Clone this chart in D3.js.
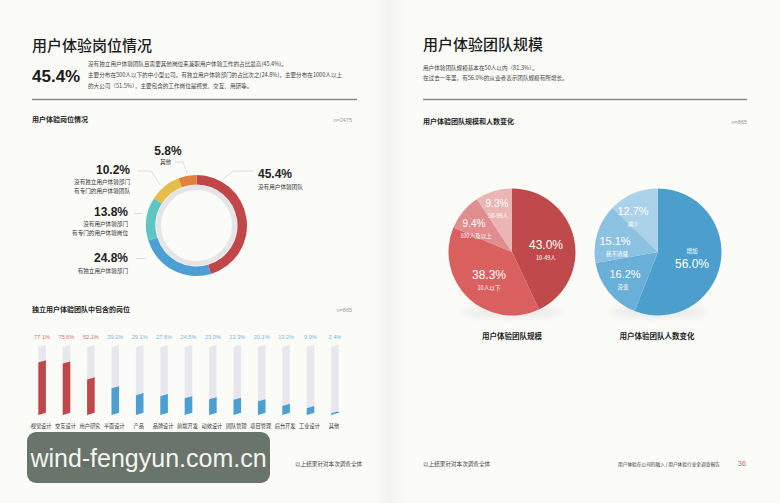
<!DOCTYPE html>
<html><head><meta charset="utf-8">
<script src="https://cdn.jsdelivr.net/npm/d3@7/dist/d3.min.js"></script>
<style>
html,body{margin:0;padding:0;background:#fbfbf8;}
svg{display:block;}
text{font-family:"Liberation Sans","Noto Sans CJK SC",sans-serif;}
.cn{font-family:"Noto Sans CJK SC","Liberation Sans",sans-serif;}
</style></head>
<body>
<svg id="c" width="780" height="503"></svg>
<script>
// ---------- DATA ----------
const donutLabels = [["没有用户体验团队"],["有独立用户体验部门"],["没有用户体验部门","有专门的用户体验岗位"],["没有独立用户体验部门","有专门的用户体验团队"],["其他"]];
const donutValues = [45.4, 24.8, 13.8, 10.2, 5.8];
const donutColors = ["#c1464a","#4b9fd2","#5ec5c3","#e4bd4c","#e2813d"];

const barCategories = ["视觉设计","交互设计","用户研究","平面设计","产品","品牌设计","前端开发","动效设计","团队管理","项目管理","后台开发","工业设计","其他"];
const barValues = [77.1, 75.6, 52.1, 39.2, 29.1, 27.6, 24.5, 23.0, 22.3, 20.1, 13.2, 9.9, 2.4];

const sizeLabels = ["10-49人","10人以下","100人及以上","50-99人"];
const sizeValues = [43.0, 38.3, 9.4, 9.3];
const sizeColors = ["#c04a4b","#d9605f","#e08d8d","#ebb5b5"];

const changeLabels = ["增加","没变","我不清楚","减少"];
const changeValues = [56.0, 16.2, 15.1, 12.7];
const changeColors = ["#4c9fcd","#6aafd7","#8cc2e1","#abd2e9"];

// ---------- DRAW ----------
const svg = d3.select("#c");
svg.append("rect").attr("width",780).attr("height",503).attr("fill","#fbfbf8");
// spine shading
const g0 = svg.append("defs").append("linearGradient").attr("id","spine");
g0.append("stop").attr("offset","0%").attr("stop-color","#fbfbf8");
g0.append("stop").attr("offset","50%").attr("stop-color","#f2f2ef");
g0.append("stop").attr("offset","100%").attr("stop-color","#fbfbf8");
svg.append("rect").attr("x",375).attr("y",0).attr("width",30).attr("height",503).attr("fill","url(#spine)");

function txt(x,y,s,size,opt={}){
  return svg.append("text").attr("x",x).attr("y",y).text(s)
    .attr("font-size",size).attr("fill",opt.fill||"#222")
    .attr("font-weight",opt.w||400).attr("text-anchor",opt.a||"start")
    .attr("class",opt.cn===false?null:"cn");
}

// ----- Left page header -----
txt(32,51,"用户体验岗位情况",15,{w:500,fill:"#1a1a1a"});
txt(32,82,"45.4%",17,{w:700,fill:"#1a1a1a",cn:false});
txt(88,66,"没有独立用户体验团队且需要其他岗位来兼职用户体验工作的占比最高(45.4%)。",5.6,{fill:"#444"});
txt(88,77,"主要分布在500人以下的中小型公司。有独立用户体验部门的占比次之(24.8%)，主要分布在1000人以上",5.6,{fill:"#444"});
txt(88,88,"的大公司（51.5%），主要包含的工作岗位是视觉、交互、用研等。",5.6,{fill:"#444"});
svg.append("line").attr("x1",32).attr("x2",357).attr("y1",99.5).attr("y2",99.5).attr("stroke","#8a8a8a").attr("stroke-width",1.6);

// ----- Donut -----
txt(32,122,"用户体验岗位情况",7,{w:700,fill:"#222"});
txt(352,122,"n=2475",5.5,{fill:"#999",a:"end",cn:false});
const dcx=196.5, dcy=225.5;
const dg = svg.append("g").attr("transform",`translate(${dcx},${dcy})`);
dg.append("circle").attr("r",38).attr("fill","none").attr("stroke","#e5e5e7").attr("stroke-width",5);
const dpie = d3.pie().sort(null).value(d=>d)(donutValues);
const darc = d3.arc().innerRadius(41).outerRadius(50.5);
dg.selectAll("path.d").data(dpie).join("path").attr("class","d").attr("d",darc).attr("fill",(d,i)=>donutColors[i]);

// donut labels
const lc = "#d6d6d6";
function pl(pts){ svg.append("polyline").attr("points",pts.map(p=>p.join(",")).join(" ")).attr("fill","none").attr("stroke",lc).attr("stroke-width",0.8); }
function pt(angDeg, r){ const a=angDeg*Math.PI/180; return [dcx+r*Math.sin(a), dcy-r*Math.cos(a)]; }
// 45.4
{ const p=pt(30,54); pl([p,[p[0]+10,171],[253,171]]);
  txt(258,178,donutValues[0].toFixed(1)+"%",12,{w:700,cn:false});
  txt(258,189,donutLabels[0][0],5.6,{fill:"#333"}); }
// 5.8 (其他)
{ const p=pt(350,53); pl([[175,162],[183,162],p]);
  txt(168,155,donutValues[4].toFixed(1)+"%",12,{w:700,a:"middle",cn:false});
  txt(160,164,donutLabels[4][0],5.6,{fill:"#333"}); }
// 10.2
{ const p=pt(318,54); pl([[138,171],[151,171],p]);
  txt(130,174,donutValues[3].toFixed(1)+"%",12,{w:700,a:"end",cn:false});
  txt(130,184,donutLabels[3][0],5.6,{fill:"#333",a:"end"});
  txt(130,193,donutLabels[3][1],5.6,{fill:"#333",a:"end"}); }
// 13.8
{ pl([[134,213.5],[142,213.5]]);
  txt(128,216,donutValues[2].toFixed(1)+"%",12,{w:700,a:"end",cn:false});
  txt(128,226,donutLabels[2][0],5.6,{fill:"#333",a:"end"});
  txt(128,235,donutLabels[2][1],5.6,{fill:"#333",a:"end"}); }
// 24.8
{ pl([[136,258.5],[146,258.5]]);
  txt(128,262,donutValues[1].toFixed(1)+"%",12,{w:700,a:"end",cn:false});
  txt(128,273,donutLabels[1][0],5.6,{fill:"#333",a:"end"}); }

// ----- Bars -----
txt(32,312,"独立用户体验团队中包含的岗位",7,{w:700,fill:"#222"});
txt(352,312,"n=865",5.5,{fill:"#999",a:"end",cn:false});
const bx = d3.scaleBand().domain(barCategories).range([31,346]).paddingInner(0.69).paddingOuter(0.3);
const by = d3.scaleLinear().domain([0,100]).range([415,347]);
const skew = 2.2;
function para(x,w,y0,y1){ return `M${x},${y0} L${x+w},${y0-skew} L${x+w},${y1-skew} L${x},${y1} Z`; }
const bg = svg.append("g");
barCategories.forEach((c,i)=>{
  const x=bx(c), w=bx.bandwidth(), col = i<3?"#c1464a":"#4b9fd2";
  bg.append("path").attr("d",para(x,w,by(0),by(100))).attr("fill","#e9e7ee");
  bg.append("path").attr("d",para(x,w,by(0),by(barValues[i]))).attr("fill",col);
  txt(x+w/2,339,barValues[i].toFixed(1)+"%",5.6,{fill:i<3?"#d0706f":"#7cb6dc",a:"middle",cn:false});
  txt(x+w/2-1,428,c,5.2,{fill:"#333",a:"middle"});
});

// ----- Right page header -----
txt(423,50,"用户体验团队规模",15,{w:500,fill:"#1a1a1a"});
txt(423,70,"用户体验团队规模基本在50人以内（81.3%）。",5.6,{fill:"#444"});
txt(423,80,"在过去一年里，有56.0%的从业者表示团队规模有所增长。",5.6,{fill:"#444"});
svg.append("line").attr("x1",423).attr("x2",747).attr("y1",99.5).attr("y2",99.5).attr("stroke","#8a8a8a").attr("stroke-width",1.6);
txt(423,124,"用户体验团队规模和人数变化",7,{w:700,fill:"#222"});
txt(747,124,"n=865",5.5,{fill:"#999",a:"end",cn:false});

// shadow filter
const defs = svg.append("defs");
const f = defs.append("filter").attr("id","blur").attr("x","-50%").attr("y","-50%").attr("width","200%").attr("height","200%");
f.append("feGaussianBlur").attr("stdDeviation",4);

function drawPie(cx,cy,values,colors,labels,labelPos){
  svg.append("ellipse").attr("cx",cx).attr("cy",cy+60).attr("rx",50).attr("ry",5).attr("fill","#d8d8d8").attr("filter","url(#blur)").attr("opacity",0.6);
  const g = svg.append("g").attr("transform",`translate(${cx},${cy})`);
  const arcs = d3.pie().sort(null).value(d=>d)(values);
  const arc = d3.arc().innerRadius(0).outerRadius(63.5);
  g.selectAll("path").data(arcs).join("path").attr("d",arc).attr("fill",(d,i)=>colors[i]);
  labelPos.forEach((p,i)=>{
    const big = p.big||12;
    if(p.labelFirst){
      g.append("text").attr("x",p.x).attr("y",p.y-12).attr("class","cn").attr("font-size",5.6).attr("fill","#fff").attr("text-anchor",p.a||"middle").text(labels[i]);
      g.append("text").attr("x",p.x+(p.dx||0)).attr("y",p.y+3).attr("font-size",big).attr("font-weight",500).attr("fill","#fff").attr("text-anchor",p.a||"middle").text(values[i].toFixed(1)+"%");
    } else {
      g.append("text").attr("x",p.x).attr("y",p.y).attr("font-size",big).attr("font-weight",500).attr("fill","#fff").attr("text-anchor",p.a||"middle").text(values[i].toFixed(1)+"%");
      g.append("text").attr("x",p.x+(p.ldx||0)).attr("y",p.y+11).attr("class","cn").attr("font-size",5.6).attr("fill","#fff").attr("text-anchor",p.a||"middle").text(labels[i]);
    }
  });
}
drawPie(512,252,sizeValues,sizeColors,sizeLabels,[
  {x:34,y:-3},
  {x:-23,y:27},
  {x:-38,y:-25,big:10,ldx:2},
  {x:-15,y:-45,big:10,ldx:1}
]);
drawPie(658,252,changeValues,changeColors,changeLabels,[
  {x:34,y:13,labelFirst:true,dx:0},
  {x:-33,y:26,big:11,ldx:-2},
  {x:-43,y:-7,big:11,ldx:2},
  {x:-25,y:-37,big:11,ldx:0}
]);
txt(512,339,"用户体验团队规模",7.5,{w:700,fill:"#222",a:"middle"});
txt(657,339,"用户体验团队人数变化",7.5,{w:700,fill:"#222",a:"middle"});

// ----- Footers -----
txt(35,466,"36   用户体验行业全调查报告  |  用户体验在公司的融入",5.2,{fill:"#333"});
txt(295,466,"以上结果针对本次调查全体",5.6,{fill:"#444"});
txt(423,466,"以上结果针对本次调查全体",5.6,{fill:"#444"});
txt(618,466,"用户体验在公司的融入 | 用户体验行业全调查报告",4.7,{fill:"#333"});
txt(738,466,"36",7,{fill:"#d05a5a",cn:false});

// watermark
svg.append("rect").attr("x",27).attr("y",432).attr("width",243).attr("height",51).attr("rx",9).attr("fill","#5e6a60").attr("opacity",0.93);
svg.append("text").attr("x",148.5).attr("y",467).attr("text-anchor","middle").attr("font-size",25).attr("fill","#f4f4f0")
  .attr("font-family","'Open Sans','DejaVu Sans',sans-serif").text("wind-fengyun.com.cn");
</script>
</body></html>
